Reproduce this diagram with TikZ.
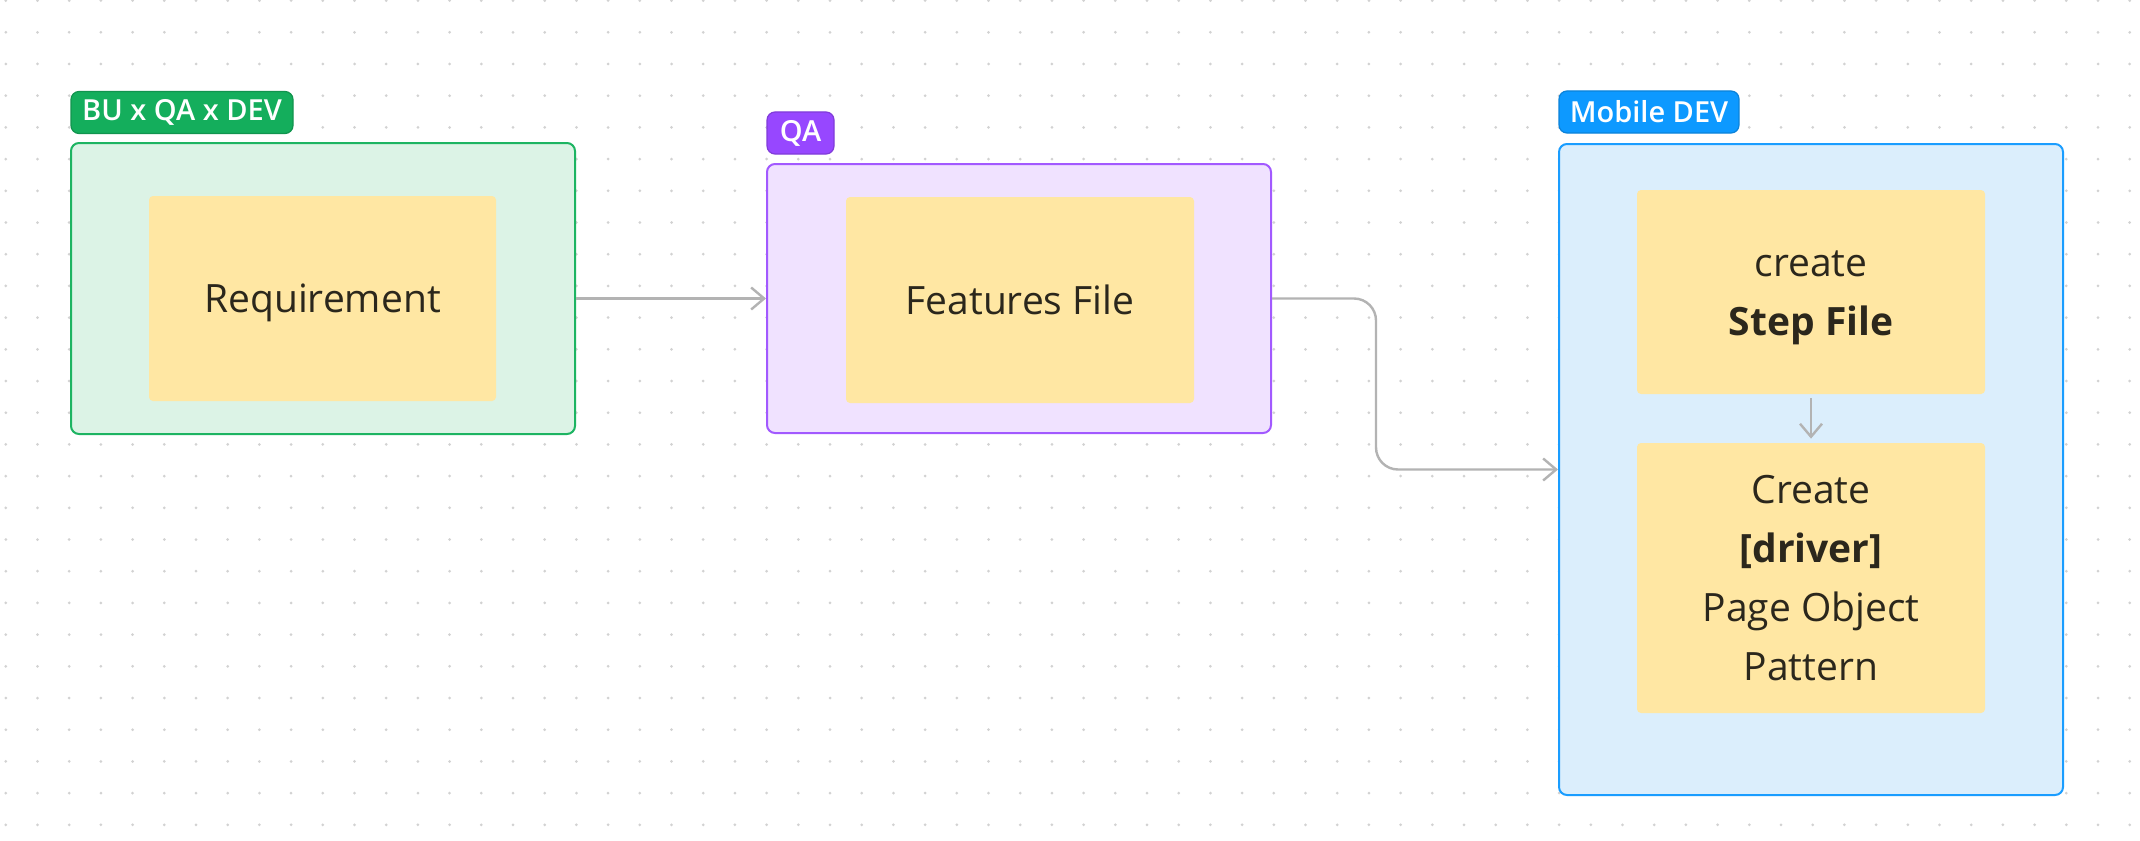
\documentclass[tikz,border=0pt]{standalone}
\usepackage{fontspec}
\setmainfont{Open Sans}
\IfFontExistsTF{Open Sans SemiBold}{\newfontfamily\tagfont{Open Sans SemiBold}}{%
  \IfFontExistsTF{Open Sans Semibold}{\newfontfamily\tagfont{Open Sans Semibold}}{\newfontfamily\tagfont{Open Sans}}}
\IfFontExistsTF{Open Sans Medium}{\newfontfamily\bodyfont{Open Sans Medium}[BoldFont=Open Sans Bold]}{\newfontfamily\bodyfont{Open Sans}}
\usetikzlibrary{arrows.meta,calc}
\definecolor{dotc}{HTML}{D2D2D2}
\definecolor{grnTag}{HTML}{14AE5C}
\definecolor{grnFill}{HTML}{DCF3E6}
\definecolor{grnLine}{HTML}{1DB462}
\definecolor{purTag}{HTML}{9747FF}
\definecolor{purFill}{HTML}{F0E2FF}
\definecolor{purLine}{HTML}{A259FF}
\definecolor{bluTag}{HTML}{0D99FF}
\definecolor{bluFill}{HTML}{DBEEFC}
\definecolor{bluLine}{HTML}{1A9DFF}
\definecolor{sticky}{HTML}{FFE7A3}
\definecolor{inkc}{HTML}{2B271C}
\definecolor{connc}{HTML}{B3B3B3}
\tikzset{
  groupbox/.style={draw, line width=1pt, rounded corners=4pt, minimum width=252pt, inner sep=0pt},
  tagbox/.style={draw, line width=0.6pt, rounded corners=4pt, text=white, inner sep=0pt, minimum height=21pt,
    font=\tagfont\fontsize{14.5pt}{17pt}\selectfont},
  stickybox/.style={fill=sticky, rounded corners=2pt, minimum width=174pt, inner sep=0pt},
  stickytext/.style={inner sep=0pt, text=inkc, align=center, yshift=-1.2pt,
    font=\bodyfont\fontsize{19.5pt}{29.5pt}\selectfont},
  conn/.style={draw=connc, line width=1.2pt, -{Straight Barb[length=6.5pt,width=11pt,line width=1.2pt]}},
}
\begin{document}
\begin{tikzpicture}[x=0.5pt,y=-0.5pt]
\useasboundingbox[fill=white] (0,0) rectangle (2140,840);
% dot grid
\foreach \i in {0,...,67} {
  \foreach \j in {0,...,26} {
    \fill[dotc] ({5.8+31.7*\i},{0.6+31.7*\j}) circle[radius=0.75pt];
  }
}
% groups
\node[groupbox, draw=grnLine, fill=grnFill, minimum height=145.5pt] (green) at (323,288.5) {};
\node[groupbox, draw=purLine, fill=purFill, minimum height=134.5pt] (purple) at (1019,298.5) {};
\node[groupbox, draw=bluLine, fill=bluFill, minimum height=325.5pt] (blue) at (1811,469.5) {};
% tags
\node[tagbox, fill=grnTag, draw=grnTag!85!black, minimum width=111pt] (gtag) at (182,112.5) {BU x QA x DEV};
\node[tagbox, fill=purTag, draw=purTag!85!black, minimum width=33.5pt] (ptag) at (800.5,133) {QA};
\node[tagbox, fill=bluTag, draw=bluTag!85!black, minimum width=90pt] (btag) at (1649,112) {Mobile DEV};
% stickies
\node[stickybox, minimum width=173.5pt, minimum height=102.5pt] (req) at (322.5,298.5) {};
\node[stickybox, minimum height=103pt] (feat) at (1020,300) {};
\node[stickybox, minimum height=102pt] (step) at (1811,292) {};
\node[stickybox, minimum height=135pt] (create) at (1811,578) {};
\node[stickytext] (reqtxt) at (req.center) {\strut Requirement};
\node[stickytext] (feattxt) at (feat.center) {\strut Features File};
\node[stickytext] (steptxt) at (step.center) {\strut create\\\strut\textbf{Step File}};
\node[stickytext] (createtxt) at (create.center) {\strut Create\\\strut\textbf{[driver]}\\\strut Page Object\\\strut Pattern};
% connectors
\coordinate (bend) at (1376,380);
\draw[conn] (green.east |- purple.west) -- (purple.west);
\draw[conn, rounded corners=11pt] (purple.east) -| (bend) |- (blue.west);
\draw[conn, shorten <=2pt, shorten >=2pt] (step.south) -- (create.north);
\end{tikzpicture}
\end{document}
